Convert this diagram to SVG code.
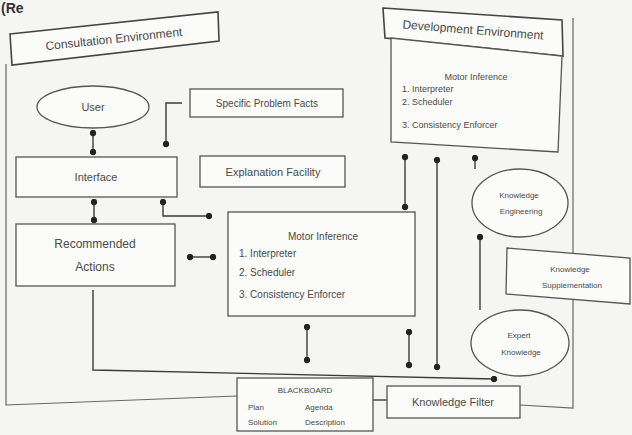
<svg xmlns="http://www.w3.org/2000/svg" width="632" height="435" viewBox="0 0 632 435">
<style>
  .bx{fill:#fbfbfa;stroke:#555;stroke-width:1.3}
  .lb{fill:#fbfbfa;stroke:#444;stroke-width:1.6}
  .fr{fill:none;stroke:#666;stroke-width:1.2}
  .cn{fill:none;stroke:#3a3a3a;stroke-width:1.4}
  text{font-family:"Liberation Sans",Arial,sans-serif;fill:#4a4a4a}
  .t11{font-size:11px}
  .t10{font-size:10px}
  .t9{font-size:9px}
  .t8{font-size:8px}
  .c{text-anchor:middle}
</style>
<defs>
  <marker id="dot" viewBox="0 0 8 8" refX="4" refY="4" markerWidth="7" markerHeight="7" markerUnits="userSpaceOnUse">
    <circle cx="4" cy="4" r="3.6" fill="#222"/>
  </marker>
</defs>
<rect width="632" height="435" fill="#f5f5f3"/>
<text x="1" y="13" style="font-size:14px;font-weight:bold;fill:#333">(Re</text>

<g id="frames">
  <path class="fr" d="M6,64 V405 L237,396"/>
  <path class="fr" d="M573,18 V408 L520,405"/>
</g>

<g id="consultation-label">
  <polygon class="lb" points="10,34 218,12 219,41 12,65"/>
  <text class="c" x="114" y="43" transform="rotate(-6 114 40)" style="font-size:12px">Consultation Environment</text>
</g>

<g id="development-label">
  <polygon class="lb" points="383,8 562,20 563,56 385,38"/>
  <text class="c" x="473" y="34" transform="rotate(4.5 473 30)" style="font-size:12px">Development Environment</text>
</g>

<g id="dev-inference">
  <polygon class="bx" points="391,38 562,56 558,152 391,142"/>
  <text class="c t9" x="476" y="80">Motor Inference</text>
  <text class="t9" x="402" y="92">1. Interpreter</text>
  <text class="t9" x="402" y="105">2. Scheduler</text>
  <text class="t9" x="402" y="128">3. Consistency Enforcer</text>
</g>

<g id="user">
  <ellipse cx="93" cy="107" rx="56" ry="21" fill="#fbfbfa" stroke="#555" stroke-width="1.3"/>
  <text class="c t11" x="93" y="111">User</text>
</g>

<g id="specific-problem-facts">
  <rect class="bx" x="190" y="89" width="153" height="28"/>
  <text class="c t10" x="267" y="107">Specific Problem Facts</text>
</g>

<g id="interface">
  <rect class="bx" x="16" y="157" width="161" height="40"/>
  <text class="c t11" x="96" y="181">Interface</text>
</g>

<g id="explanation-facility">
  <rect class="bx" x="200" y="156" width="145" height="31"/>
  <text class="c t11" x="273" y="176">Explanation Facility</text>
</g>

<g id="recommended-actions">
  <rect class="bx" x="16" y="224" width="159" height="62"/>
  <text class="c" x="95" y="248" style="font-size:12px">Recommended</text>
  <text class="c" x="95" y="271" style="font-size:12px">Actions</text>
</g>

<g id="main-inference">
  <rect class="bx" x="228" y="212" width="187" height="104"/>
  <text class="c t10" x="323" y="240">Motor Inference</text>
  <text class="t10" x="239" y="257">1. Interpreter</text>
  <text class="t10" x="239" y="276">2. Scheduler</text>
  <text class="t10" x="239" y="298">3. Consistency Enforcer</text>
</g>

<g id="knowledge-engineering">
  <ellipse cx="520" cy="203" rx="48" ry="34" fill="#fbfbfa" stroke="#555" stroke-width="1.3"/>
  <text class="c t8" x="519" y="198">Knowledge</text>
  <text class="c t8" x="521" y="214">Engineering</text>
</g>

<g id="knowledge-supplementation">
  <polygon class="bx" points="507,248 630,258 630,304 506,294"/>
  <text class="c t8" x="570" y="272">Knowledge</text>
  <text class="c t8" x="572" y="288">Supplementation</text>
</g>

<g id="expert-knowledge">
  <ellipse cx="520" cy="343" rx="49" ry="33" fill="#fbfbfa" stroke="#555" stroke-width="1.3"/>
  <text class="c t8" x="519" y="338">Expert</text>
  <text class="c t8" x="521" y="355">Knowledge</text>
</g>

<g id="blackboard">
  <rect class="bx" x="237" y="378" width="136" height="53"/>
  <text class="c t8" x="305" y="393">BLACKBOARD</text>
  <text class="t8" x="248" y="410">Plan</text>
  <text class="t8" x="305" y="410">Agenda</text>
  <text class="t8" x="248" y="425">Solution</text>
  <text class="t8" x="305" y="425">Description</text>
</g>

<g id="knowledge-filter">
  <rect class="bx" x="387" y="386" width="133" height="32"/>
  <text class="c t11" x="453" y="406">Knowledge Filter</text>
</g>

<g id="connectors">
  <line class="cn" x1="93" y1="133" x2="93" y2="152" marker-start="url(#dot)" marker-end="url(#dot)"/>
  <path class="cn" d="M182,103 H166 V144" marker-end="url(#dot)"/>
  <line class="cn" x1="94" y1="202" x2="94" y2="220" marker-start="url(#dot)" marker-end="url(#dot)"/>
  <path class="cn" d="M163,202 V216 H209" marker-start="url(#dot)" marker-end="url(#dot)"/>
  <line class="cn" x1="190" y1="257" x2="213" y2="257" marker-start="url(#dot)" marker-end="url(#dot)"/>
  <path class="cn" d="M93,290 V370 L494,379" marker-end="url(#dot)"/>
  <line class="cn" x1="405" y1="157" x2="405" y2="207" marker-start="url(#dot)" marker-end="url(#dot)"/>
  <line class="cn" x1="437" y1="160" x2="437" y2="367" marker-start="url(#dot)" marker-end="url(#dot)"/>
  <line class="cn" x1="475" y1="158" x2="475" y2="169" marker-start="url(#dot)"/>
  <line class="cn" x1="480" y1="237" x2="480" y2="310" marker-start="url(#dot)"/>
  <line class="cn" x1="307" y1="327" x2="307" y2="360" marker-start="url(#dot)" marker-end="url(#dot)"/>
  <line class="cn" x1="409" y1="332" x2="409" y2="365" marker-start="url(#dot)" marker-end="url(#dot)"/>
  <line class="cn" x1="373" y1="400" x2="387" y2="400"/>
</g>
</svg>
